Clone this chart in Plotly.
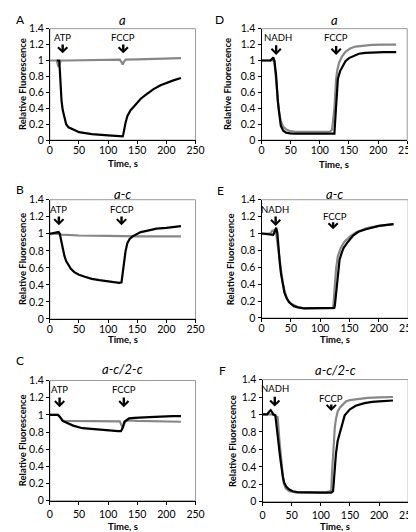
import plotly.graph_objects as go

# ---------------- data ----------------
A_gray_t = [0, 12, 14, 15, 17, 19, 30, 60, 100, 120, 123, 125, 127, 130, 150, 200, 225]
A_gray_v = [1.0, 1.0, 0.94, 0.92, 0.96, 1.0, 1.0, 1.005, 1.01, 1.01, 0.98, 0.95, 0.98, 1.01, 1.015, 1.025, 1.03]
A_black_t = [12, 16, 17, 18, 19, 20, 22, 25, 28, 32, 38, 44, 50, 60, 72, 100, 115, 125, 126, 127, 128, 130, 133, 138, 144, 150, 156, 165, 178, 190, 200, 212, 225]
A_black_v = [1.0, 1.0, 0.9, 0.75, 0.6, 0.5, 0.38, 0.27, 0.2, 0.16, 0.135, 0.12, 0.1, 0.085, 0.075, 0.06, 0.053, 0.048, 0.07, 0.12, 0.17, 0.22, 0.3, 0.37, 0.42, 0.47, 0.52, 0.57, 0.64, 0.69, 0.72, 0.75, 0.78]

B_gray_t = [0, 10, 20, 50, 100, 125, 150, 225]
B_gray_v = [1.0, 1.0, 0.99, 0.98, 0.975, 0.97, 0.97, 0.97]
B_black_t = [0, 10, 15, 17, 19, 22, 25, 28, 32, 36, 42, 50, 60, 72, 85, 100, 110, 119, 123, 125, 128, 130, 133, 137, 142, 150, 156, 170, 183, 200, 225]
B_black_v = [1.0, 1.01, 1.02, 1.0, 0.93, 0.81, 0.74, 0.68, 0.63, 0.59, 0.55, 0.52, 0.495, 0.47, 0.455, 0.44, 0.43, 0.425, 0.43, 0.55, 0.7, 0.8, 0.89, 0.94, 0.97, 1.0, 1.02, 1.04, 1.06, 1.07, 1.09]

C_gray_t = [0, 14, 17, 20, 22, 25, 60, 100, 120, 123, 125, 127, 130, 135, 150, 225]
C_gray_v = [1.0, 1.0, 0.98, 0.95, 0.935, 0.93, 0.93, 0.93, 0.925, 0.88, 0.85, 0.88, 0.93, 0.935, 0.93, 0.92]
C_black_t = [0, 14, 17, 20, 22, 27, 33, 40, 56, 70, 83, 100, 117, 122, 125, 128, 132, 136, 145, 156, 180, 211, 225]
C_black_v = [1.0, 1.0, 0.98, 0.95, 0.93, 0.915, 0.9, 0.875, 0.845, 0.835, 0.826, 0.82, 0.81, 0.81, 0.85, 0.92, 0.945, 0.96, 0.965, 0.97, 0.978, 0.985, 0.985]

D_gray_t = [0, 18, 20, 22, 25, 28, 30, 33, 37, 42, 48, 56, 78, 100, 117, 121, 123, 125, 128, 130, 133, 138, 144, 152, 161, 175, 189, 210, 231]
D_gray_v = [1.0, 1.0, 1.0, 0.99, 0.77, 0.48, 0.35, 0.24, 0.17, 0.135, 0.115, 0.106, 0.105, 0.105, 0.105, 0.13, 0.25, 0.4, 0.77, 0.88, 0.97, 1.05, 1.11, 1.15, 1.175, 1.19, 1.196, 1.2, 1.2]
D_black_t = [0, 15, 18, 20, 22, 25, 28, 30, 33, 37, 42, 49, 56, 80, 100, 122, 125, 126, 128, 131, 135, 139, 144, 150, 158, 167, 178, 189, 210, 231]
D_black_v = [1.0, 1.0, 1.02, 1.04, 1.0, 0.81, 0.48, 0.32, 0.18, 0.12, 0.094, 0.085, 0.08, 0.08, 0.08, 0.08, 0.08, 0.2, 0.48, 0.77, 0.87, 0.93, 0.99, 1.03, 1.06, 1.085, 1.095, 1.1, 1.105, 1.105]

E_gray_t = [0, 15, 18, 20, 22, 25, 28, 30, 33, 36, 40, 44, 50, 55, 62, 72, 100, 122, 123, 125, 127, 130, 135, 141, 150, 160, 178, 200, 225]
E_gray_v = [1.0, 1.0, 1.03, 1.04, 1.04, 1.0, 0.85, 0.69, 0.55, 0.42, 0.3, 0.22, 0.17, 0.15, 0.13, 0.115, 0.115, 0.115, 0.2, 0.42, 0.58, 0.73, 0.83, 0.9, 0.96, 1.01, 1.06, 1.09, 1.11]
E_black_t = [0, 18, 20, 23, 25, 27, 29, 31, 33, 36, 39, 43, 47, 55, 62, 72, 100, 122, 124, 125, 127, 130, 133, 137, 140, 145, 150, 156, 165, 178, 200, 225]
E_black_v = [1.0, 0.99, 0.985, 1.03, 1.07, 1.0, 0.8, 0.66, 0.53, 0.4, 0.3, 0.23, 0.185, 0.14, 0.125, 0.115, 0.115, 0.115, 0.12, 0.15, 0.3, 0.55, 0.69, 0.78, 0.83, 0.88, 0.93, 0.975, 1.02, 1.05, 1.09, 1.11]

F_gray_t = [0, 20, 22, 26, 29, 31, 33, 35, 37, 40, 46, 52, 60, 80, 100, 110, 115, 118, 119, 121, 123, 124, 126, 129, 133, 138, 143, 150, 160, 180, 200, 224]
F_gray_v = [1.0, 1.0, 0.98, 0.97, 0.7, 0.55, 0.4, 0.29, 0.2, 0.15, 0.12, 0.11, 0.104, 0.104, 0.104, 0.11, 0.12, 0.13, 0.3, 0.55, 0.75, 0.85, 0.95, 1.035, 1.08, 1.12, 1.15, 1.165, 1.175, 1.19, 1.195, 1.2]
F_black_t = [0, 8, 11, 14, 17, 18, 22, 23, 25, 27, 30, 32, 35, 37, 41, 46, 52, 60, 80, 100, 118, 121, 122, 124, 126, 129, 132, 135, 138, 141, 150, 160, 175, 188, 200, 224]
F_black_v = [1.0, 1.0, 1.03, 1.05, 1.02, 1.0, 0.99, 0.92, 0.82, 0.7, 0.52, 0.4, 0.28, 0.22, 0.17, 0.14, 0.12, 0.11, 0.104, 0.104, 0.104, 0.12, 0.2, 0.4, 0.55, 0.7, 0.78, 0.85, 0.93, 0.99, 1.06, 1.1, 1.13, 1.145, 1.15, 1.16]

panel_letters = ["A", "B", "C", "D", "E", "F"]
panel_titles = ["a", "a-c", "a-c/2-c", "a", "a-c", "a-c/2-c"]
x_title = "Time, s"
y_title = "Relative Fluorescence"
x_ticks = [0, 50, 100, 150, 200, 250]
y_ticks = [0, 0.2, 0.4, 0.6, 0.8, 1.0, 1.2, 1.4]
y_tick_text = ["0", "0.2", "0.4", "0.6", "0.8", "1", "1.2", "1.4"]

# arrow markers: (label, label_x, label_y, tip_x, tail_y, tip_y)
A_arrows = [("ATP", 22, 1.29, 22, 1.22, 1.09), ("FCCP", 126, 1.29, 126, 1.22, 1.09)]
B_arrows = [("ATP", 15.5, 1.29, 15.5, 1.22, 1.10), ("FCCP", 124, 1.29, 123, 1.22, 1.10)]
C_arrows = [("ATP", 16.7, 1.30, 16.7, 1.22, 1.09), ("FCCP", 127, 1.30, 127, 1.22, 1.09)]
D_arrows = [("NADH", 28, 1.29, 25, 1.21, 1.07), ("FCCP", 128, 1.29, 128, 1.20, 1.07)]
E_arrows = [("NADH", 23, 1.29, 24, 1.22, 1.09), ("FCCP", 124.5, 1.20, 122, 1.15, 1.05)]
F_arrows = [("NADH", 21, 1.30, 21, 1.22, 1.09), ("FCCP", 118, 1.18, 118, 1.13, 1.04)]

# ---------------- layout geometry (page pixels) ----------------
W, H = 416, 532
panels = [
    dict(gray=(A_gray_t, A_gray_v), black=(A_black_t, A_black_v), arrows=A_arrows,
         box=(40, 190, 15, 129), letter=(3, 6), ty=6, xty=153, stand=-3, ytx=12,
         title=panel_titles[0], L=panel_letters[0]),
    dict(gray=(B_gray_t, B_gray_v), black=(B_black_t, B_black_v), arrows=B_arrows,
         box=(40, 190, 190, 312), letter=(3, 180), ty=184, xty=333, stand=-3, ytx=12,
         title=panel_titles[1], L=panel_letters[1]),
    dict(gray=(C_gray_t, C_gray_v), black=(C_black_t, C_black_v), arrows=C_arrows,
         box=(40, 190, 375, 498), letter=(3, 355), ty=363, xty=524, stand=1, ytx=12,
         title=panel_titles[2], L=panel_letters[2]),
    dict(gray=(D_gray_t, D_gray_v), black=(D_black_t, D_black_v), arrows=D_arrows,
         box=(258, 408, 15, 129), letter=(208, 6), ty=6, xty=154, stand=-3, ytx=223,
         title=panel_titles[3], L=panel_letters[3]),
    dict(gray=(E_gray_t, E_gray_v), black=(E_black_t, E_black_v), arrows=E_arrows,
         box=(258, 409, 190, 311), letter=(210, 181), ty=184, xty=333, stand=-3, ytx=226,
         title=panel_titles[4], L=panel_letters[4]),
    dict(gray=(F_gray_t, F_gray_v), black=(F_black_t, F_black_v), arrows=F_arrows,
         box=(259, 409, 374, 499), letter=(212, 365), ty=364, xty=524, stand=1, ytx=228,
         title=panel_titles[5], L=panel_letters[5]),
]

FONT = "Lato, 'Open Sans', sans-serif"
fig = go.Figure()
annotations = []
shapes = []

for i, p in enumerate(panels):
    n = i + 1
    xa = "x" if n == 1 else f"x{n}"
    ya = "y" if n == 1 else f"y{n}"
    l, r, t, b = p["box"]
    fig.add_trace(go.Scatter(x=p["gray"][0], y=p["gray"][1], mode="lines",
                             line=dict(color="#878787", width=2.2), xaxis=xa, yaxis=ya,
                             showlegend=False, hoverinfo="skip"))
    fig.add_trace(go.Scatter(x=p["black"][0], y=p["black"][1], mode="lines",
                             line=dict(color="#000000", width=2.2), xaxis=xa, yaxis=ya,
                             showlegend=False, hoverinfo="skip"))
    axcommon = dict(showgrid=False, zeroline=False, showline=True, linecolor="#000000",
                    linewidth=1, ticks="outside", ticklen=3, tickcolor="#000000",
                    tickfont=dict(family=FONT, size=10.5, color="#000000"))
    fig.update_layout(**{
        ("xaxis" if n == 1 else f"xaxis{n}"): dict(
            domain=[l / W, r / W], anchor=ya, range=[0, 250], tickvals=x_ticks,
            ticklabelstandoff=p["stand"], **axcommon),
        ("yaxis" if n == 1 else f"yaxis{n}"): dict(
            domain=[1 - b / H, 1 - t / H], anchor=xa, range=[0, 1.4], tickvals=y_ticks,
            ticktext=y_tick_text, **axcommon),
    })
    # gray frame
    shapes.append(dict(type="rect", xref=f"{xa} domain", yref=f"{ya} domain",
                       x0=0, x1=1, y0=0, y1=1, line=dict(color="#9a9a9a", width=1), layer="below"))
    # panel letter
    annotations.append(dict(text=p["L"], x=p["letter"][0] / W, y=1 - p["letter"][1] / H,
                            xref="paper", yref="paper", xanchor="left", yanchor="middle",
                            showarrow=False, font=dict(family=FONT, size=12, color="#000")))
    # title
    annotations.append(dict(text=f"<i>{p['title']}</i>", x=(l + r) / 2 / W, y=1 - p["ty"] / H,
                            xref="paper", yref="paper", xanchor="center", yanchor="middle",
                            showarrow=False, font=dict(family=FONT, size=13, color="#000")))
    # x title
    annotations.append(dict(text=f"<b>{x_title}</b>", x=(l + r) / 2 / W, y=1 - p["xty"] / H,
                            xref="paper", yref="paper", xanchor="center", yanchor="middle",
                            showarrow=False, font=dict(family=FONT, size=9.5, color="#000")))
    # y title
    annotations.append(dict(text=f"<b>{y_title}</b>", x=p["ytx"] / W, y=1 - (t + b) / 2 / H,
                            xref="paper", yref="paper", xanchor="center", yanchor="middle",
                            textangle=-90, showarrow=False,
                            font=dict(family=FONT, size=9.5, color="#000")))
    # arrows
    for lab, lx, ly, tx, tail, tip in p["arrows"]:
        annotations.append(dict(text=lab, x=lx, y=ly, xref=xa, yref=ya, showarrow=False,
                                xanchor="center", yanchor="middle",
                                font=dict(family=FONT, size=9.5, color="#000")))
        annotations.append(dict(text="", x=tx, y=tip, ax=tx, ay=tail, xref=xa, yref=ya,
                                axref=xa, ayref=ya, showarrow=True, arrowhead=4,
                                arrowsize=0.75, arrowwidth=2.4, arrowcolor="#000",
                                standoff=0, startstandoff=0))

fig.update_layout(width=W, height=H, margin=dict(l=0, r=0, t=0, b=0),
                  paper_bgcolor="white", plot_bgcolor="white",
                  annotations=annotations, shapes=shapes,
                  font=dict(family=FONT, color="#000"))

fig.write_html("out.html")
